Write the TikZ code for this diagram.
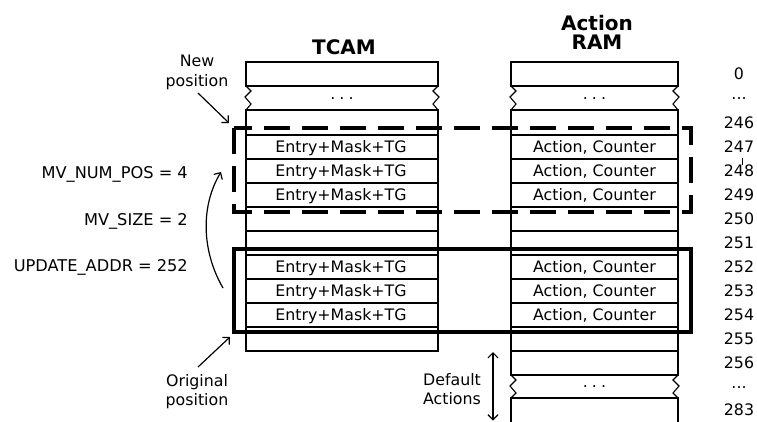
\documentclass[tikz,border=0pt]{standalone}
\usepackage{fontspec}
\setmainfont{DejaVu Sans}
\usetikzlibrary{arrows.meta}
\begin{document}
\begin{tikzpicture}[x=1pt,y=-1pt,
  grid/.style={line width=1.1pt},
  lbl/.style={font=\fontsize{15.8}{19}\selectfont, inner sep=0pt},
  lblw/.style={font=\fontsize{16.2}{19}\selectfont, inner sep=0pt},
  ttl/.style={font=\fontsize{20}{24}\selectfont\bfseries, inner sep=0pt},
  arr/.style={line width=1.2pt,-{Straight Barb[length=5pt,width=10pt]}},
  darr/.style={line width=1.2pt,{Straight Barb[length=5pt,width=10pt]}-{Straight Barb[length=5pt,width=10pt]}},
  dots/.style={font=\fontsize{15.8}{19}\selectfont, inner sep=0pt, anchor=base}]
\useasboundingbox (0,0) rectangle (757,421);
% ---------- titles
\node[ttl,anchor=base] (tcamt) at (344,54) {TCAM};
\node[ttl,anchor=base] (ramt1) at (597,30) {Action};
\node[ttl,anchor=base] (ramt2) at (597,49) {RAM};
% ---------- TCAM column
\draw[grid] (246,62) rectangle (438,86);
\draw[grid] (246,86) -- ++(5,5) -- ++(-6,6) -- ++(6,7) -- ++(-5,6);
\draw[grid] (438,86) -- ++(-5,5) -- ++(6,6) -- ++(-6,7) -- ++(5,6);
\draw[grid] (246,110) rectangle (438,351);
\foreach \yy in {135,159,183,207,231,255,279,303,327}
  \draw[grid] (246,\yy) -- (438,\yy);
% ---------- Action RAM column
\draw[grid] (511,62) rectangle (678,86);
\draw[grid] (511,86) -- ++(5,5) -- ++(-6,6) -- ++(6,7) -- ++(-5,6);
\draw[grid] (678,86) -- ++(-5,5) -- ++(6,6) -- ++(-6,7) -- ++(5,6);
\draw[grid] (511,110) rectangle (678,375);
\foreach \yy in {135,159,183,207,231,255,279,303,327,351}
  \draw[grid] (511,\yy) -- (678,\yy);
\draw[grid] (511,375) -- ++(5,5) -- ++(-6,6) -- ++(6,7) -- ++(-5,5);
\draw[grid] (678,375) -- ++(-5,5) -- ++(6,6) -- ++(-6,7) -- ++(5,5);
\draw[grid] (511,422) -- (511,398) -- (678,398) -- (678,422);
% ---------- dots in columns
\node[dots] (td) at (342,99) {.\hspace{4pt}.\hspace{4pt}.};
\node[dots] (rd1) at (594.5,99) {.\hspace{4pt}.\hspace{4pt}.};
\node[dots] (rd2) at (594.5,387) {.\hspace{4pt}.\hspace{4pt}.};
% ---------- entries
\foreach \yy/\nm in {147/a,171/b,195/c,267/d,291/e,315/f}{
  \node[lbl,anchor=base] (te\nm) at (341,\yy+5.7) {Entry+Mask+TG};
  \node[lbl,anchor=base] (ra\nm) at (594.5,\yy+5.7) {Action, Counter};
}
% ---------- address numbers
\foreach \yy/\tx/\nm in {74/0/n0,122.5/246/n1,147/247/n2,171/248/n3,195/249/n4,219/250/n5,243/251/n6,267/252/n7,291/253/n8,315/254/n9,339/255/n10,363/256/n11,410/283/n12}
  \node[lbl,anchor=base] (\nm) at (739,\yy+5.7) {\tx};
\node[dots] (nd1) at (739,99) {...};
\node[dots] (nd2) at (739,388) {...};
\draw[line width=0.6pt] (742,158) -- (742,165);
% ---------- boxes
\draw[line width=3.2pt, dash pattern=on 26pt off 12pt] (234,128) rectangle (691,212);
\draw[line width=3.2pt] (234,249) rectangle (691,332);
% ---------- left labels
\node[lblw,anchor=base east] (mvn) at (188,173+5.8) {MV\_NUM\_POS = 4};
\node[lblw,anchor=base east] (mvs) at (188,220+5.8) {MV\_SIZE = 2};
\node[lblw,anchor=base east] (upd) at (188,266+5.8) {UPDATE\_ADDR = 252};
\coordinate (ca) at (223,288);
\coordinate (cb) at (221,172);
\draw[arr] (ca) .. controls (201,250) and (201,205) .. (cb);
% ---------- position labels
\node[lbl,anchor=base] (newa) at (197,66) {New};
\node[lbl,anchor=base] (newb) at (197,86) {position};
\coordinate (np1) at (198,93);
\coordinate (np2) at (229,123);
\draw[arr] (np1) -- (np2);
\node[lbl,anchor=base] (oria) at (197,386) {Original};
\node[lbl,anchor=base] (orib) at (197,405) {position};
\coordinate (op1) at (198,367);
\coordinate (op2) at (230,337);
\draw[arr] (op1) -- (op2);
% ---------- default actions
\node[lbl,anchor=base] (defa) at (452,385) {Default};
\node[lbl,anchor=base] (defb) at (452,404) {Actions};
\coordinate (da1) at (493,352);
\coordinate (da2) at (493,420.5);
\draw[darr] (da1) -- (da2);
\end{tikzpicture}
\end{document}
